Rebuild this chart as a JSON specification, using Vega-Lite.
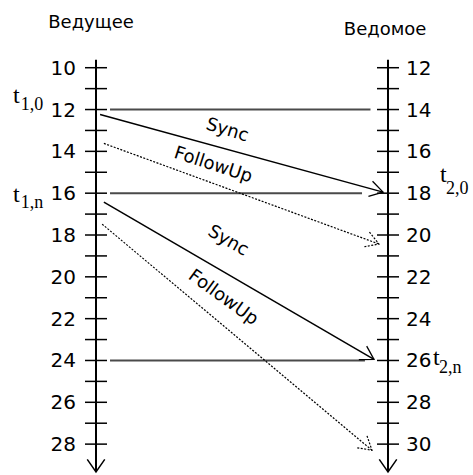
{
  "$schema": "https://vega.github.io/schema/vega-lite/v6.json",
  "width": 473,
  "height": 475,
  "padding": 0,
  "autosize": {"type": "fit", "contains": "padding"},
  "background": "white",
  "config": {"view": {"stroke": null}},
  "datasets": {
    "clocks": [
      {"side": 0, "top": 9.62, "bottom": 29.33},
      {"side": 1, "top": 9.62, "bottom": 29.33}
    ],
    "ticks": [
      {"side": 0, "pos": 10, "label": "10"}, {"side": 0, "pos": 11, "label": ""},
      {"side": 0, "pos": 12, "label": "12"}, {"side": 0, "pos": 13, "label": ""},
      {"side": 0, "pos": 14, "label": "14"}, {"side": 0, "pos": 15, "label": ""},
      {"side": 0, "pos": 16, "label": "16"}, {"side": 0, "pos": 17, "label": ""},
      {"side": 0, "pos": 18, "label": "18"}, {"side": 0, "pos": 19, "label": ""},
      {"side": 0, "pos": 20, "label": "20"}, {"side": 0, "pos": 21, "label": ""},
      {"side": 0, "pos": 22, "label": "22"}, {"side": 0, "pos": 23, "label": ""},
      {"side": 0, "pos": 24, "label": "24"}, {"side": 0, "pos": 25, "label": ""},
      {"side": 0, "pos": 26, "label": "26"}, {"side": 0, "pos": 27, "label": ""},
      {"side": 0, "pos": 28, "label": "28"},
      {"side": 1, "pos": 10, "label": "12"}, {"side": 1, "pos": 11, "label": ""},
      {"side": 1, "pos": 12, "label": "14"}, {"side": 1, "pos": 13, "label": ""},
      {"side": 1, "pos": 14, "label": "16"}, {"side": 1, "pos": 15, "label": ""},
      {"side": 1, "pos": 16, "label": "18"}, {"side": 1, "pos": 17, "label": ""},
      {"side": 1, "pos": 18, "label": "20"}, {"side": 1, "pos": 19, "label": ""},
      {"side": 1, "pos": 20, "label": "22"}, {"side": 1, "pos": 21, "label": ""},
      {"side": 1, "pos": 22, "label": "24"}, {"side": 1, "pos": 23, "label": ""},
      {"side": 1, "pos": 24, "label": "26"}, {"side": 1, "pos": 25, "label": ""},
      {"side": 1, "pos": 26, "label": "28"}, {"side": 1, "pos": 27, "label": ""},
      {"side": 1, "pos": 28, "label": "30"}
    ],
    "lines": [
      {"kind": "ref", "msg": "r1", "x": 0.048, "y": 12, "x2": 0.94, "y2": 12},
      {"kind": "ref", "msg": "r2", "x": 0.048, "y": 16, "x2": 0.911, "y2": 16},
      {"kind": "ref", "msg": "r3", "x": 0.048, "y": 24, "x2": 0.921, "y2": 24},
      {"kind": "sync", "msg": "s1", "x": 0.014, "y": 12.24, "x2": 0.983, "y2": 15.95},
      {"kind": "fu", "msg": "f1", "x": 0.027, "y": 13.62, "x2": 0.969, "y2": 18.43},
      {"kind": "sync", "msg": "s2", "x": 0.027, "y": 16.43, "x2": 0.952, "y2": 23.95},
      {"kind": "fu", "msg": "f2", "x": 0.021, "y": 17.48, "x2": 0.945, "y2": 28.29}
    ],
    "msgLabels": [
      {"text": "Sync", "msg": "s1", "x": 0.449, "y": 13.0},
      {"text": "FollowUp", "msg": "f1", "x": 0.401, "y": 14.67},
      {"text": "Sync", "msg": "s2", "x": 0.452, "y": 18.29},
      {"text": "FollowUp", "msg": "f2", "x": 0.435, "y": 21.0}
    ],
    "timeLabels": [
      {"part": "main", "text": "t", "x": -0.284, "y": 11.667},
      {"part": "sub", "text": "1,0", "x": -0.258, "y": 12.0},
      {"part": "main", "text": "t", "x": -0.284, "y": 16.43},
      {"part": "sub", "text": "1,n", "x": -0.258, "y": 16.71},
      {"part": "main", "text": "t", "x": 1.178, "y": 15.476},
      {"part": "sub", "text": "2,0", "x": 1.199, "y": 16.05},
      {"part": "main", "text": "t", "x": 1.154, "y": 24.24},
      {"part": "sub", "text": "2,n", "x": 1.175, "y": 24.62}
    ],
    "titles": [
      {"text": "Ведущее", "x": -0.017, "y": 8.095},
      {"text": "Ведомое", "x": 0.99, "y": 8.43}
    ]
  },
  "layer": [
    {
      "data": {"name": "clocks"},
      "mark": {"type": "rule", "color": "black", "strokeWidth": 2},
      "encoding": {
        "x": {"field": "side", "type": "quantitative", "scale": {"domain": [-0.32877, 1.2911], "nice": false, "zero": false}, "axis": null},
        "y": {"field": "top", "type": "quantitative", "scale": {"domain": [6.7619, 29.381], "reverse": true, "nice": false, "zero": false}, "axis": null},
        "y2": {"field": "bottom"}
      }
    },
    {
      "data": {"name": "clocks"},
      "mark": {"type": "point", "shape": "M-1,-0.7L0,0L-1,0.7", "filled": false, "stroke": "black", "strokeWidth": 1.5, "size": 625, "angle": 90, "opacity": 1},
      "encoding": {
        "x": {"field": "side", "type": "quantitative", "scale": {"domain": [-0.32877, 1.2911], "nice": false, "zero": false}, "axis": null},
        "y": {"field": "bottom", "type": "quantitative", "scale": {"domain": [6.7619, 29.381], "reverse": true, "nice": false, "zero": false}, "axis": null}
      }
    },
    {
      "data": {"name": "ticks"},
      "mark": {"type": "point", "shape": "stroke", "filled": false, "stroke": "black", "strokeWidth": 1.5, "size": 484, "opacity": 1},
      "encoding": {
        "x": {"field": "side", "type": "quantitative", "scale": {"domain": [-0.32877, 1.2911], "nice": false, "zero": false}, "axis": null},
        "y": {"field": "pos", "type": "quantitative", "scale": {"domain": [6.7619, 29.381], "reverse": true, "nice": false, "zero": false}, "axis": null}
      }
    },
    {
      "data": {"name": "ticks"},
      "transform": [{"filter": "datum.side == 0 && datum.label != ''"}],
      "mark": {"type": "text", "align": "right", "baseline": "middle", "dx": -20, "dy": 1, "font": "DejaVu Sans", "fontSize": 20, "color": "black"},
      "encoding": {
        "x": {"field": "side", "type": "quantitative", "scale": {"domain": [-0.32877, 1.2911], "nice": false, "zero": false}, "axis": null},
        "y": {"field": "pos", "type": "quantitative", "scale": {"domain": [6.7619, 29.381], "reverse": true, "nice": false, "zero": false}, "axis": null},
        "text": {"field": "label"}
      }
    },
    {
      "data": {"name": "ticks"},
      "transform": [{"filter": "datum.side == 1 && datum.label != ''"}],
      "mark": {"type": "text", "align": "left", "baseline": "middle", "dx": 18, "dy": 1, "font": "DejaVu Sans", "fontSize": 20, "color": "black"},
      "encoding": {
        "x": {"field": "side", "type": "quantitative", "scale": {"domain": [-0.32877, 1.2911], "nice": false, "zero": false}, "axis": null},
        "y": {"field": "pos", "type": "quantitative", "scale": {"domain": [6.7619, 29.381], "reverse": true, "nice": false, "zero": false}, "axis": null},
        "text": {"field": "label"}
      }
    },
    {
      "data": {"name": "lines"},
      "transform": [{"filter": "datum.kind == 'ref'"}],
      "mark": {"type": "rule", "color": "#4a4a4a", "strokeWidth": 2},
      "encoding": {
        "x": {"field": "x", "type": "quantitative", "scale": {"domain": [-0.32877, 1.2911], "nice": false, "zero": false}, "axis": null},
        "y": {"field": "y", "type": "quantitative", "scale": {"domain": [6.7619, 29.381], "reverse": true, "nice": false, "zero": false}, "axis": null},
        "x2": {"field": "x2"},
        "y2": {"field": "y2"}
      }
    },
    {
      "data": {"name": "lines"},
      "transform": [{"filter": "datum.kind == 'sync'"}],
      "mark": {"type": "rule", "color": "black", "strokeWidth": 1.5},
      "encoding": {
        "x": {"field": "x", "type": "quantitative", "scale": {"domain": [-0.32877, 1.2911], "nice": false, "zero": false}, "axis": null},
        "y": {"field": "y", "type": "quantitative", "scale": {"domain": [6.7619, 29.381], "reverse": true, "nice": false, "zero": false}, "axis": null},
        "x2": {"field": "x2"},
        "y2": {"field": "y2"}
      }
    },
    {
      "data": {"name": "lines"},
      "transform": [{"filter": "datum.kind == 'fu'"}],
      "mark": {"type": "rule", "color": "black", "strokeWidth": 1.2, "strokeDash": [2, 1.5]},
      "encoding": {
        "x": {"field": "x", "type": "quantitative", "scale": {"domain": [-0.32877, 1.2911], "nice": false, "zero": false}, "axis": null},
        "y": {"field": "y", "type": "quantitative", "scale": {"domain": [6.7619, 29.381], "reverse": true, "nice": false, "zero": false}, "axis": null},
        "x2": {"field": "x2"},
        "y2": {"field": "y2"}
      }
    },
    {
      "data": {"name": "lines"},
      "transform": [{"filter": "datum.kind == 'sync'"}],
      "mark": {"type": "point", "shape": "M-1,-0.6L0,0L-1,0.6", "filled": false, "stroke": "black", "strokeWidth": 1.3, "size": 676, "opacity": 1},
      "encoding": {
        "x": {"field": "x2", "type": "quantitative", "scale": {"domain": [-0.32877, 1.2911], "nice": false, "zero": false}, "axis": null},
        "y": {"field": "y2", "type": "quantitative", "scale": {"domain": [6.7619, 29.381], "reverse": true, "nice": false, "zero": false}, "axis": null},
        "angle": {"field": "msg", "type": "nominal", "scale": {"type": "ordinal", "domain": ["s1", "s2"], "range": [15.2, 30.3]}, "legend": null}
      }
    },
    {
      "data": {"name": "lines"},
      "transform": [{"filter": "datum.kind == 'fu'"}],
      "mark": {"type": "point", "shape": "M-1,-0.6L0,0L-1,0.6", "filled": false, "stroke": "black", "strokeWidth": 1.2, "strokeDash": [2, 1.5], "size": 676, "opacity": 1},
      "encoding": {
        "x": {"field": "x2", "type": "quantitative", "scale": {"domain": [-0.32877, 1.2911], "nice": false, "zero": false}, "axis": null},
        "y": {"field": "y2", "type": "quantitative", "scale": {"domain": [6.7619, 29.381], "reverse": true, "nice": false, "zero": false}, "axis": null},
        "angle": {"field": "msg", "type": "nominal", "scale": {"type": "ordinal", "domain": ["f1", "f2"], "range": [20.2, 40.1]}, "legend": null}
      }
    },
    {
      "data": {"name": "msgLabels"},
      "mark": {"type": "text", "align": "center", "baseline": "middle", "font": "DejaVu Sans", "fontSize": 18, "color": "black"},
      "encoding": {
        "x": {"field": "x", "type": "quantitative", "scale": {"domain": [-0.32877, 1.2911], "nice": false, "zero": false}, "axis": null},
        "y": {"field": "y", "type": "quantitative", "scale": {"domain": [6.7619, 29.381], "reverse": true, "nice": false, "zero": false}, "axis": null},
        "text": {"field": "text"},
        "angle": {"field": "msg", "type": "nominal", "scale": {"type": "ordinal", "domain": ["s1", "f1", "s2", "f2"], "range": [17, 18, 30, 36]}, "legend": null}
      }
    },
    {
      "data": {"name": "timeLabels"},
      "transform": [{"filter": "datum.part == 'main'"}],
      "mark": {"type": "text", "align": "left", "baseline": "alphabetic", "font": "'Liberation Serif', 'DejaVu Serif', serif", "fontSize": 24, "color": "black"},
      "encoding": {
        "x": {"field": "x", "type": "quantitative", "scale": {"domain": [-0.32877, 1.2911], "nice": false, "zero": false}, "axis": null},
        "y": {"field": "y", "type": "quantitative", "scale": {"domain": [6.7619, 29.381], "reverse": true, "nice": false, "zero": false}, "axis": null},
        "text": {"field": "text"}
      }
    },
    {
      "data": {"name": "timeLabels"},
      "transform": [{"filter": "datum.part == 'sub'"}],
      "mark": {"type": "text", "align": "left", "baseline": "alphabetic", "font": "'Liberation Serif', 'DejaVu Serif', serif", "fontSize": 18, "color": "black"},
      "encoding": {
        "x": {"field": "x", "type": "quantitative", "scale": {"domain": [-0.32877, 1.2911], "nice": false, "zero": false}, "axis": null},
        "y": {"field": "y", "type": "quantitative", "scale": {"domain": [6.7619, 29.381], "reverse": true, "nice": false, "zero": false}, "axis": null},
        "text": {"field": "text"}
      }
    },
    {
      "data": {"name": "titles"},
      "mark": {"type": "text", "align": "center", "baseline": "alphabetic", "font": "DejaVu Sans", "fontSize": 18, "color": "black"},
      "encoding": {
        "x": {"field": "x", "type": "quantitative", "scale": {"domain": [-0.32877, 1.2911], "nice": false, "zero": false}, "axis": null},
        "y": {"field": "y", "type": "quantitative", "scale": {"domain": [6.7619, 29.381], "reverse": true, "nice": false, "zero": false}, "axis": null},
        "text": {"field": "text"}
      }
    }
  ],
  "resolve": {"scale": {"angle": "independent"}}
}
